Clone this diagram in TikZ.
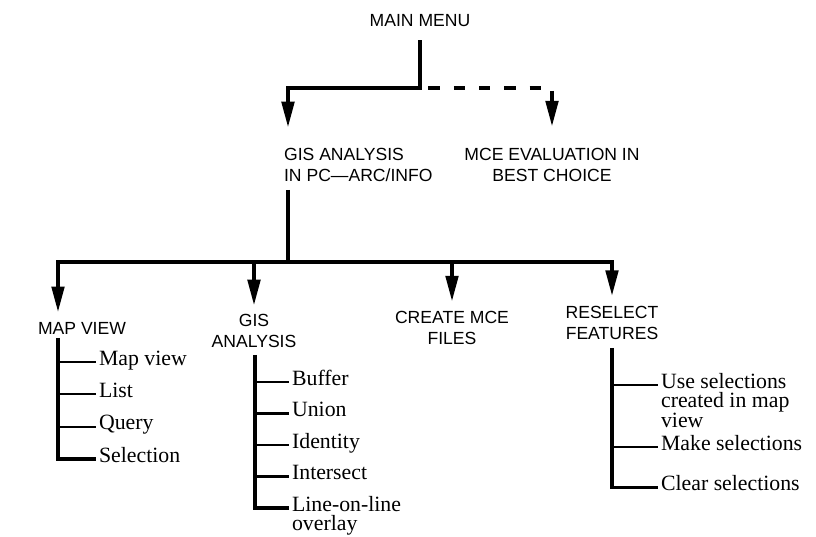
\documentclass[tikz,border=0pt]{standalone}
\usepackage{fontspec}
\setmainfont{Liberation Serif}
\setsansfont{Liberation Sans}
\usepackage{tikz}
\usetikzlibrary{arrows.meta,positioning}

\begin{document}
\begin{tikzpicture}[x=0.025cm, y=-0.025cm,
    menu/.style={font=\sffamily\fontsize{12.5pt}{15pt}\selectfont, inner sep=2pt, align=center},
    leaf/.style={font=\rmfamily\fontsize{15.5pt}{14pt}\selectfont, inner sep=2pt, anchor=mid west},
    link/.style={line width=2.2pt},
    arr/.style={-{Triangle[length=18pt,width=9pt]}, line width=2.2pt},
    bar/.style={line width=2.2pt},
    twig/.style={line width=1.5pt}
]
    \useasboundingbox (0,0) rectangle (816,537);

    \node[menu] (main) at (420,21) {MAIN MENU};
    \node[menu, align=left, anchor=west] (gisarc) at (281,164.5) {GIS ANALYSIS\\IN PC—ARC/INFO};
    \node[menu] (mce) at (552,165) {MCE EVALUATION IN\\BEST CHOICE};

    \coordinate (split) at (420,88);
    \coordinate (bus) at (288,262);

    \draw[arr, shorten <=7pt, shorten >=12.5pt] (main.south) -- (split) -| (bus |- gisarc.north);
    \draw[arr, dash pattern=on 8pt off 10pt, shorten >=13.5pt] ([xshift=6pt]split) -| (mce.north);

    \node[menu] (mapview) at (82,328) {MAP VIEW};
    \node[menu] (gisan) at (254,330.5) {GIS\\ANALYSIS};
    \node[menu] (create) at (452,328) {CREATE MCE\\FILES};
    \node[menu] (reselect) at (612,322.5) {RESELECT\\FEATURES};

    \draw[link, shorten <=4pt] (bus |- gisarc.south) -- (bus);

    \coordinate (mvbar) at (58,338);
    \coordinate (gabar) at (255,355);
    \coordinate (rsbar) at (612,348);

    \draw[arr, shorten >=5pt] (bus) -| (mvbar |- mapview.north);
    \draw[arr, shorten >=4pt] (bus) -| (gisan.north);
    \draw[arr, shorten >=5pt] (bus) -| (create.north);
    \draw[arr, shorten >=5pt] (bus) -| (reselect.north);

    \node[leaf] (mv1) at (96,362) {Map view};
    \node[leaf, below=23pt of mv1.mid west, anchor=mid west] (mv2) {List};
    \node[leaf, below=23pt of mv2.mid west, anchor=mid west] (mv3) {Query};
    \node[leaf, below=23pt of mv3.mid west, anchor=mid west] (mv4) {Selection};

    \node[leaf] (ga1) at (289,382) {Buffer};
    \node[leaf, below=22.4pt of ga1.mid west, anchor=mid west] (ga2) {Union};
    \node[leaf, below=22.4pt of ga2.mid west, anchor=mid west] (ga3) {Identity};
    \node[leaf, below=22.4pt of ga3.mid west, anchor=mid west] (ga4) {Intersect};
    \node[leaf, below=22.4pt of ga4.mid west, anchor=mid west] (ga5) {\vtop{\hbox{Line-on-line}\hbox{overlay}}};

    \node[leaf] (rs1) at (658,385) {\vtop{\hbox{Use selections}\hbox{created in map}\hbox{view}}};
    \node[leaf, below=44pt of rs1.mid west, anchor=mid west] (rs2) {Make selections};
    \node[leaf, below=29pt of rs2.mid west, anchor=mid west] (rs3) {Clear selections};

    \draw[bar] (mvbar) |- (mv4.mid west);
    \foreach \i in {1,2,3} \draw[twig] (mvbar |- mv\i.mid west) -- (mv\i.mid west);
    \draw[bar] (gabar) |- (ga5.mid west);
    \foreach \i in {1,2,3,4} \draw[twig] (gabar |- ga\i.mid west) -- (ga\i.mid west);
    \draw[bar] (rsbar) |- (rs3.mid west);
    \foreach \i in {1,2} \draw[twig] (rsbar |- rs\i.mid west) -- (rs\i.mid west);
\end{tikzpicture}
\end{document}
